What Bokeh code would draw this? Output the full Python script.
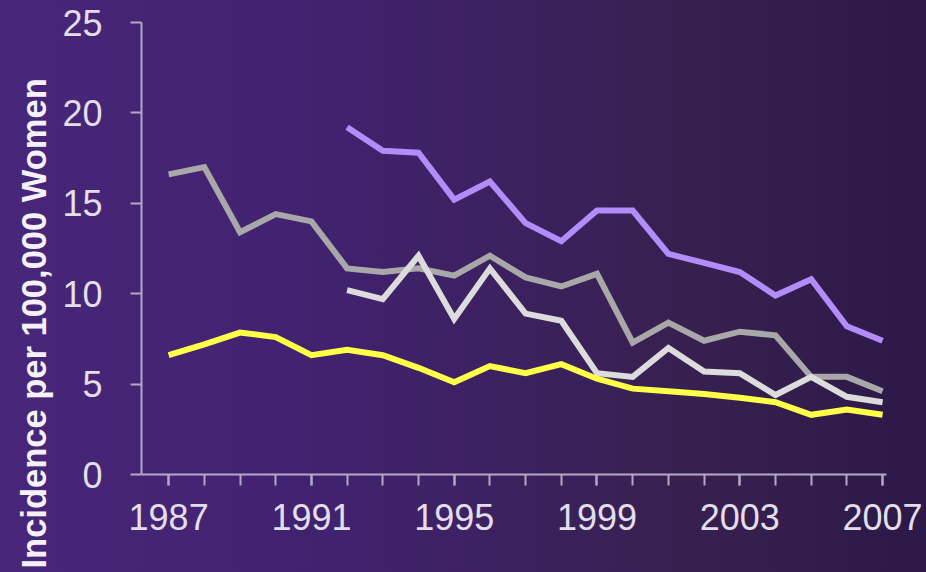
from bokeh.plotting import figure
from bokeh.models import FixedTicker, Range1d, Title, GlobalInlineStyleSheet
from bokeh.embed import file_html
from bokeh.resources import INLINE

# ---- data ----
years_all = list(range(1987, 2008))
years_late = list(range(1992, 2008))
gray_vals = [16.6, 17.0, 13.4, 14.4, 14.0, 11.4, 11.2, 11.4, 11.0, 12.1, 10.9,
             10.4, 11.1, 7.3, 8.4, 7.4, 7.9, 7.7, 5.4, 5.4, 4.6]
yellow_vals = [6.6, 7.2, 7.85, 7.6, 6.6, 6.9, 6.6, 5.9, 5.1, 6.0, 5.6,
               6.1, 5.3, 4.75, 4.6, 4.45, 4.25, 4.0, 3.3, 3.6, 3.3]
purple_vals = [19.2, 17.9, 17.8, 15.2, 16.2, 13.9, 12.9, 14.6, 14.6, 12.2,
               11.7, 11.2, 9.9, 10.8, 8.2, 7.4]
white_vals = [10.2, 9.7, 12.1, 8.6, 11.4, 8.9, 8.5, 5.6, 5.4, 7.0,
              5.7, 5.6, 4.4, 5.4, 4.3, 4.0]
x_tick_labels = [1987, 1991, 1995, 1999, 2003, 2007]
y_ticks = [0, 5, 10, 15, 20, 25]
y_label = "Incidence per 100,000 Women"

FONT = "Liberation Sans"

p = figure(width=926, height=572, output_backend="svg", toolbar_location=None,
           x_range=Range1d(1986.24, 2007.11), y_range=Range1d(0, 25),
           min_border_left=141, min_border_right=40, min_border_top=22,
           min_border_bottom=98)
p.stylesheets = [GlobalInlineStyleSheet(css=(
    "html{min-height:100%;background:linear-gradient(to right,#482679 0%,"
    "#41226f 35%,#37204f 75%,#2c1947 100%);}"
    "body{background:transparent;}"))]
p.background_fill_alpha = 0
p.border_fill_alpha = 0
p.outline_line_color = None
p.xgrid.visible = False
p.ygrid.visible = False

lw = 6
p.line(years_all, gray_vals, line_color="#a8a8a8", line_width=lw, line_join="miter")
p.line(years_late, white_vals, line_color="#dcdcdc", line_width=lw, line_join="miter")
p.line(years_all, yellow_vals, line_color="#ffff4a", line_width=lw, line_join="miter")
p.line(years_late, purple_vals, line_color="#b28cf8", line_width=lw, line_join="miter")

axis_col = "#b3a9c6"
lab_col = "#e2deea"
for ax in (p.xaxis[0], p.yaxis[0]):
    ax.axis_line_color = axis_col
    ax.axis_line_width = 2
    ax.major_tick_line_color = axis_col
    ax.major_tick_line_width = 2
    ax.minor_tick_line_color = axis_col
    ax.minor_tick_line_width = 2
    ax.major_tick_in = 0
    ax.major_tick_out = 11
    ax.minor_tick_in = 0
    ax.minor_tick_out = 11
    ax.major_label_text_font = FONT
    ax.major_label_text_font_size = "36px"
    ax.major_label_text_color = lab_col

p.xaxis.ticker = FixedTicker(ticks=x_tick_labels, minor_ticks=years_all)
p.xaxis.major_label_standoff = 18
p.yaxis.ticker = FixedTicker(ticks=y_ticks, minor_ticks=[])
p.yaxis.major_label_standoff = 28

ttl = Title(text=y_label, align="left", offset=-94, standoff=14,
            text_font=FONT, text_font_style="bold", text_font_size="34.5px",
            text_color="#f4f2f8")
p.add_layout(ttl, "left")

open("out.html", "w").write(file_html(p, INLINE))
